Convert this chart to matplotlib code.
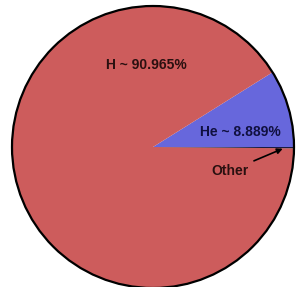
import numpy as np
import matplotlib
matplotlib.use('Agg')
import matplotlib.pyplot as plt
from matplotlib.patches import Circle

plt.rcParams['font.family'] = ['Liberation Sans', 'DejaVu Sans']

# dados
elementos = ['He', 'H', 'Other']
fracoes = [8.889, 90.965, 0.146]
cores = ['#6767dc', '#cd5c5c', '#1a1a40']

fig = plt.figure(figsize=(3.02, 2.87), dpi=100)
ax = fig.add_axes([0, 0, 1, 1])

wedges, _ = ax.pie(fracoes, colors=cores, startangle=0, counterclock=True,
                   radius=1.0, wedgeprops=dict(linewidth=0))
ax.add_patch(Circle((0, 0), 1.0, fill=False, edgecolor='black', linewidth=1.6))

escala = 141.0
ax.set_xlim(-153 / escala, (302 - 153) / escala)
ax.set_ylim(-(287 - 147) / escala, 147 / escala)
ax.set_aspect('auto')
ax.axis('off')

ax.text(-0.05, 0.58, 'H ~ %.3f%%' % fracoes[1], ha='center', va='center',
        fontsize=10, fontweight='bold', color='#2a1010')
ax.text(0.617, 0.106, 'He ~ %.3f%%' % fracoes[0], ha='center', va='center',
        fontsize=10, fontweight='bold', color='#101040')
ax.annotate('Other', xy=(0.92, -0.012), xytext=(0.546, -0.17),
            ha='center', va='center', fontsize=10, fontweight='bold', color='#2a1010',
            arrowprops=dict(arrowstyle='-|>', color='black', lw=1.2,
                            shrinkA=2, shrinkB=0, mutation_scale=8))

fig.savefig('out.png', dpi=100)
